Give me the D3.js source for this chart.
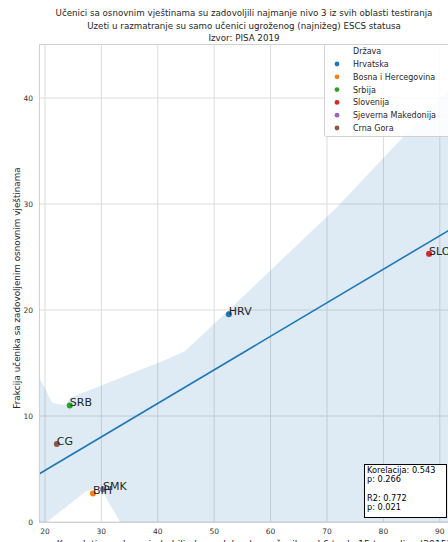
<!DOCTYPE html>
<html><head><meta charset="utf-8">
<script src="https://cdn.jsdelivr.net/npm/d3@7"></script>
<style>body{margin:0;background:#fff;overflow:hidden}svg{display:block;font-family:"DejaVu Sans",sans-serif}</style>
</head><body><svg id="c" width="448" height="542"></svg>
<script>
const titleLines = ["Učenici sa osnovnim vještinama su zadovoljili najmanje nivo 3 iz svih oblasti testiranja","Uzeti u razmatranje su samo učenici ugroženog (najnižeg) ESCS statusa","Izvor: PISA 2019"];
const countries = ["Hrvatska","Bosna i Hercegovina","Srbija","Slovenija","Sjeverna Makedonija","Crna Gora"];
const codes = ["HRV","BIH","SRB","SLO","SMK","CG"];
const investment = [52.6, 28.5, 24.4, 88.1, 30.3, 22.1];
const fraction = [19.6, 2.7, 11.0, 25.3, 3.1, 7.36];
const colors = ["#1f77b4","#ff7f0e","#2ca02c","#d62728","#9467bd","#8c564b"];
const xTicks = [20,30,40,50,60,70,80,90];
const yTicks = [0,10,20,30,40];
const ciX =     [18.9, 20.35, 21.2, 22.1, 23.7, 24.4, 27.1, 29.75, 33.3, 41.3, 44.8, 51.0, 71.8, 83.5, 95];
const ciUpper = [13.7, 12.25, 11.3, 11.13, 11.04, 11.7, 12.27, 12.83, 13.58, 15.28, 16.1, 19.2, 29.72, 36.32, 42.8];
const ciLower = [-1.2, 0, 0.36, 0.73, 1.4, 1.7, 2.83, 3.3, 0, -5.5, -6, -5, -3, -2, -2];
const statsLines = ["Korelacija: 0.543","p: 0.266","","R2: 0.772","p: 0.021"];
const xLabel = "Kumulativno ulaganje (u hiljadama dolara) po učeniku od 6 to do 15-te godine (2015)";
const yLabel = "Frakcija učenika sa zadovoljenim osnovnim vještinama";
const legendTitle = "Država";

const svg = d3.select("#c");
const L = 39, T = 44, B = 522, R = 468;
const x = d3.scaleLinear().domain([18.94, 95]).range([L, R]);
const y = d3.scaleLinear().domain([0, 45.1]).range([B, T]);

svg.append("defs").append("clipPath").attr("id","clip").append("rect")
  .attr("x",L).attr("y",T).attr("width",R-L).attr("height",B-T);

// grid
const g = svg.append("g");
g.selectAll(".gx").data(xTicks).join("line").attr("x1",d=>x(d)).attr("x2",d=>x(d)).attr("y1",T).attr("y2",B)
  .attr("stroke","#dcdcdc").attr("stroke-width",1);
g.selectAll(".gy").data(yTicks).join("line").attr("y1",d=>y(d)).attr("y2",d=>y(d)).attr("x1",L).attr("x2",R)
  .attr("stroke","#dcdcdc").attr("stroke-width",1);

// band
const area = d3.area().x((d,i)=>x(ciX[i])).y0((d,i)=>y(ciLower[i])).y1((d,i)=>y(ciUpper[i]));
svg.append("path").datum(ciX).attr("d",area).attr("fill","#1f77b4").attr("fill-opacity",0.15).attr("clip-path","url(#clip)");

// regression
const mx = d3.mean(investment), my = d3.mean(fraction);
const slope = d3.sum(investment.map((v,i)=>(v-mx)*(fraction[i]-my))) / d3.sum(investment.map(v=>(v-mx)*(v-mx)));
const icpt = my - slope*mx;
const xd = x.domain();
svg.append("line").attr("x1",x(xd[0])).attr("x2",x(xd[1])).attr("y1",y(icpt+slope*xd[0])).attr("y2",y(icpt+slope*xd[1]))
  .attr("stroke","#1f77b4").attr("stroke-width",1.6).attr("clip-path","url(#clip)");

// spines
svg.append("rect").attr("x",L+0.5).attr("y",T+0.5).attr("width",R-L).attr("height",B-T)
  .attr("fill","none").attr("stroke","#d0d0d0").attr("stroke-width",1);

// points
svg.selectAll(".pt").data(codes).join("circle")
  .attr("cx",(d,i)=>x(investment[i])).attr("cy",(d,i)=>y(fraction[i])).attr("r",3)
  .attr("fill",(d,i)=>colors[i]);
svg.selectAll(".lbl").data(codes).join("text")
  .attr("x",(d,i)=>x(investment[i])).attr("y",(d,i)=>y(fraction[i])+1)
  .attr("font-size",11).attr("fill","#262626").text(d=>d);

// ticks
svg.selectAll(".xt").data(xTicks).join("text").attr("x",d=>x(d)).attr("y",534).attr("text-anchor","middle")
  .attr("font-size",7.5).attr("fill","#333").text(d=>d);
svg.selectAll(".yt").data(yTicks).join("text").attr("x",33).attr("y",d=>y(d)+2.6).attr("text-anchor","end")
  .attr("font-size",7.5).attr("fill","#333").text(d=>d);

// axis labels
svg.append("text").attr("x",(L+R)/2).attr("y",547).attr("text-anchor","middle").attr("font-size",9.2).attr("fill","#262626").text(xLabel);
svg.append("text").attr("transform",`translate(20,288) rotate(-90)`).attr("text-anchor","middle")
  .attr("font-size",8.8).attr("fill","#262626").text(yLabel);

// title
svg.selectAll(".tt").data(titleLines).join("text").attr("x",244).attr("y",(d,i)=>16+i*12.5).attr("text-anchor","middle")
  .attr("font-size",8.7).attr("fill","#262626").text(d=>d);

// legend
const lg = svg.append("g");
lg.append("rect").attr("x",324.5).attr("y",44.5).attr("width",140).attr("height",92).attr("rx",2)
  .attr("fill","#fff").attr("fill-opacity",0.85).attr("stroke","#d0d0d0");
lg.append("text").attr("x",353).attr("y",54).attr("font-size",8).attr("fill","#262626").text(legendTitle);
countries.forEach((c,i)=>{
  lg.append("circle").attr("cx",337).attr("cy",64+i*12.8).attr("r",2.4).attr("fill",colors[i]);
  lg.append("text").attr("x",353).attr("y",67+i*12.8).attr("font-size",8).attr("fill","#262626").text(c);
});

// stats box
const sb = svg.append("g");
sb.append("rect").attr("x",364.5).attr("y",464.5).attr("width",82).attr("height",53).attr("fill","#fff").attr("stroke","#000");
statsLines.forEach((s,i)=>{
  sb.append("text").attr("x",367).attr("y",473+i*9.3).attr("font-size",8.2).attr("fill","#000").text(s);
});
</script></body></html>
